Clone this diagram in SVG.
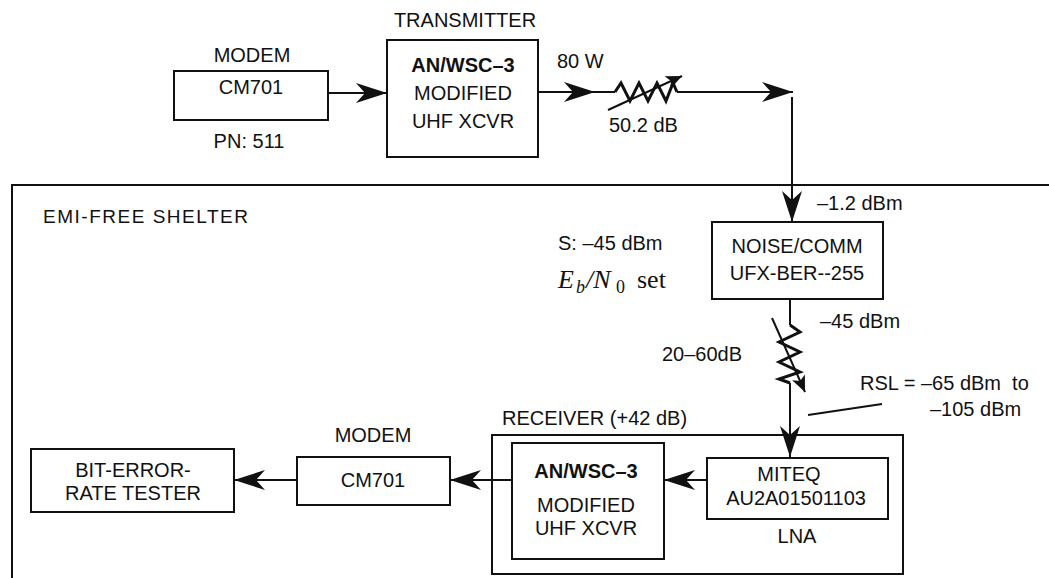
<svg xmlns="http://www.w3.org/2000/svg" width="1049" height="578" viewBox="0 0 1049 578">
<style>
text{font-family:"Liberation Sans",Arial,sans-serif;font-size:20px;fill:#111;white-space:pre}
.c{text-anchor:middle}
.b{font-weight:bold}
.box{fill:none;stroke:#111;stroke-width:2}
.ln{fill:none;stroke:#111;stroke-width:2}
.zz{fill:none;stroke:#111;stroke-width:3;stroke-linejoin:miter}
.m{font-family:"Liberation Serif","Times New Roman",serif;font-size:26px}
</style>
<defs>
<marker id="ah" markerUnits="userSpaceOnUse" markerWidth="34" markerHeight="24" viewBox="-32 -12 34 24" refX="0" refY="0" orient="auto">
<path d="M0,0 L-31,-10 L-22,0 L-31,10 Z" fill="#111"/>
</marker>
<marker id="sa" markerUnits="userSpaceOnUse" markerWidth="20" markerHeight="16" viewBox="-18 -8 20 16" refX="0" refY="0" orient="auto">
<path d="M0,0 L-16,-7 L-12,0 L-16,7 Z" fill="#111"/>
</marker>
</defs>
<rect width="1049" height="578" fill="#fff"/>
<g id="shelter">
<path class="ln" d="M1049,185 L12,185 L12,578"/>
<text x="43" y="223" textLength="205" lengthAdjust="spacing" style="font-size:19px">EMI-FREE SHELTER</text>
</g>
<g id="modem-top">
<text class="c" x="252" y="62">MODEM</text>
<rect class="box" x="174" y="71" width="154" height="49"/>
<text class="c" x="251" y="94">CM701</text>
<text class="c" x="249" y="148">PN: 511</text>
</g>
<g id="transmitter">
<text class="c" x="465" y="27">TRANSMITTER</text>
<rect class="box" x="387" y="40" width="151" height="117"/>
<text class="c b" x="463" y="72">AN/WSC–3</text>
<text class="c" x="463" y="100">MODIFIED</text>
<text class="c" x="463" y="128">UHF XCVR</text>
</g>
<g id="attenuator-top">
<path class="zz" d="M615,92 L621,83 L630,101 L639,83 L648,101 L657,83 L666,101 L673,83 L677,92"/>
<line class="ln" x1="608" y1="110" x2="682" y2="76" marker-end="url(#sa)"/>
<text x="557" y="68">80 W</text>
<text x="609" y="132">50.2 dB</text>
</g>
<g id="noise-comm">
<rect class="box" x="712" y="222" width="171" height="77"/>
<text class="c" x="797" y="253">NOISE/COMM</text>
<text class="c" x="797" y="280">UFX-BER--255</text>
<text x="817" y="210">–1.2 dBm</text>
<text x="558" y="250">S: –45 dBm</text>
<text class="m"><tspan x="558" y="288" font-style="italic">E</tspan><tspan x="576" y="293" font-style="italic" font-size="18">b</tspan><tspan x="586" y="288" font-style="italic">/N</tspan><tspan x="616" y="293" font-size="18">0</tspan><tspan x="637" y="288">set</tspan></text>
</g>
<g id="attenuator-var">
<path class="zz" d="M790,325 L800,332 L779,342 L800,352 L779,362 L800,372 L779,379 L790,383"/>
<line class="ln" x1="772" y1="318" x2="805" y2="392" marker-end="url(#sa)"/>
<text x="820" y="328">–45 dBm</text>
<text x="662" y="361">20–60dB</text>
<text x="860" y="390">RSL = –65 dBm  to</text>
<text x="930" y="416">–105 dBm</text>
<line class="ln" x1="808" y1="415" x2="882" y2="404"/>
</g>
<g id="receiver">
<text x="502" y="425">RECEIVER (+42 dB)</text>
<rect class="box" x="492" y="435" width="411" height="139"/>
</g>
<g id="xcvr-rx">
<rect class="box" x="512" y="443" width="152" height="116"/>
<text class="c b" x="586" y="478">AN/WSC–3</text>
<text class="c" x="586" y="512">MODIFIED</text>
<text class="c" x="586" y="535">UHF XCVR</text>
</g>
<g id="lna">
<rect class="box" x="707" y="458" width="181" height="61"/>
<text class="c" x="789" y="481">MITEQ</text>
<text class="c" x="796" y="505">AU2A01501103</text>
<text class="c" x="797" y="543">LNA</text>
</g>
<g id="modem-bottom">
<text class="c" x="373" y="442">MODEM</text>
<rect class="box" x="297" y="457" width="153" height="48"/>
<text class="c" x="373" y="487">CM701</text>
</g>
<g id="bert">
<rect class="box" x="31" y="449" width="203" height="63"/>
<text class="c" x="133" y="477">BIT-ERROR-</text>
<text class="c" x="133" y="500">RATE TESTER</text>
</g>
<g id="connectors">
<line class="ln" x1="328" y1="93" x2="387" y2="93" marker-end="url(#ah)"/>
<line class="ln" x1="538" y1="92" x2="595" y2="92" marker-end="url(#ah)"/>
<line class="ln" x1="595" y1="92" x2="615" y2="92"/>
<line class="ln" x1="677" y1="92" x2="793" y2="92" marker-end="url(#ah)"/>
<line class="ln" x1="792" y1="97" x2="792" y2="222" marker-end="url(#ah)"/>
<line class="ln" x1="790" y1="299" x2="790" y2="325"/>
<line class="ln" x1="790" y1="383" x2="790" y2="457" marker-end="url(#ah)"/>
<line class="ln" x1="707" y1="480" x2="664" y2="480" marker-end="url(#ah)"/>
<line class="ln" x1="512" y1="480" x2="450" y2="480" marker-end="url(#ah)"/>
<line class="ln" x1="297" y1="480" x2="234" y2="480" marker-end="url(#ah)"/>
</g>
</svg>
